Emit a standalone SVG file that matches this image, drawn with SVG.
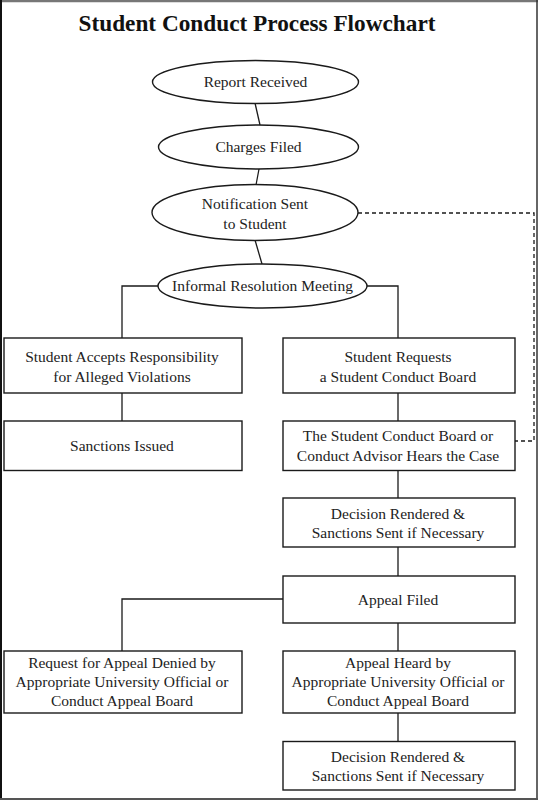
<svg xmlns="http://www.w3.org/2000/svg" width="538" height="800" viewBox="0 0 538 800">
<style>
.n{fill:#fff;stroke:#1a1a1a;stroke-width:1.4}
.t{font-size:15.5px;fill:#222;text-anchor:middle}
.c{fill:none;stroke:#1a1a1a;stroke-width:1.3}
.d{fill:none;stroke:#1a1a1a;stroke-width:1.3;stroke-dasharray:4,3}
</style>
<rect x="0" y="0" width="538" height="800" fill="#fff"/>
<g id="frame">
<line x1="0" y1="1" x2="538" y2="1" stroke="#777" stroke-width="2.5"/>
<line x1="1" y1="0" x2="1" y2="800" stroke="#111" stroke-width="2"/>
<line x1="537" y1="0" x2="537" y2="800" stroke="#333" stroke-width="1.5"/>
<line x1="0" y1="799" x2="538" y2="799" stroke="#555" stroke-width="2"/>
</g>
<text id="title" x="257" y="31" font-family="Liberation Serif,serif" font-weight="bold" font-size="23" text-anchor="middle" fill="#111" textLength="357" lengthAdjust="spacingAndGlyphs">Student Conduct Process Flowchart</text>
<g id="connectors">
<line class="c" x1="255" y1="103" x2="260" y2="125"/>
<line class="c" x1="259" y1="169" x2="256" y2="185"/>
<line class="c" x1="255" y1="240" x2="262" y2="264"/>
<polyline class="c" points="158,286 122,286 122,338"/>
<polyline class="c" points="367,286 398,286 398,338"/>
<line class="c" x1="122" y1="393" x2="122" y2="421"/>
<line class="c" x1="398" y1="393" x2="398" y2="421"/>
<line class="c" x1="398" y1="470" x2="398" y2="498"/>
<line class="c" x1="398" y1="547" x2="398" y2="576"/>
<polyline class="c" points="283,599 122,599 122,651"/>
<line class="c" x1="398" y1="623" x2="398" y2="651"/>
<line class="c" x1="398" y1="713" x2="398" y2="741"/>
<polyline class="d" points="358,213 534,213 534,441 515,441"/>
</g>
<g font-family="Liberation Serif,serif">
<g id="report"><ellipse class="n" cx="255.5" cy="82" rx="103" ry="21.5"/><text class="t" x="255.5" y="87">Report Received</text></g>
<g id="charges"><ellipse class="n" cx="258.5" cy="147" rx="100" ry="22"/><text class="t" x="258.5" y="152">Charges Filed</text></g>
<g id="notification"><ellipse class="n" cx="255" cy="212.5" rx="103" ry="28"/><text class="t" x="255" y="209">Notification Sent</text><text class="t" x="255" y="229">to Student</text></g>
<g id="informal"><ellipse class="n" cx="262.5" cy="286" rx="104.5" ry="22"/><text class="t" x="262.5" y="291">Informal Resolution Meeting</text></g>
<g id="accepts"><rect class="n" x="4" y="338" width="238" height="55"/><text class="t" x="122" y="362">Student Accepts Responsibility</text><text class="t" x="122" y="382">for Alleged Violations</text></g>
<g id="requests"><rect class="n" x="283" y="338" width="232" height="55"/><text class="t" x="398" y="362">Student Requests</text><text class="t" x="398" y="382">a Student Conduct Board</text></g>
<g id="sanctions"><rect class="n" x="4" y="421" width="238" height="49.5"/><text class="t" x="122" y="451">Sanctions Issued</text></g>
<g id="hears"><rect class="n" x="283" y="421" width="232" height="49.5"/><text class="t" x="398" y="441">The Student Conduct Board or</text><text class="t" x="398" y="461">Conduct Advisor Hears the Case</text></g>
<g id="decision1"><rect class="n" x="283" y="498" width="232" height="49"/><text class="t" x="398" y="519">Decision Rendered &amp;</text><text class="t" x="398" y="538">Sanctions Sent if Necessary</text></g>
<g id="appeal"><rect class="n" x="283" y="576" width="232" height="47"/><text class="t" x="398" y="605">Appeal Filed</text></g>
<g id="denied"><rect class="n" x="4" y="651" width="238" height="62"/><text class="t" x="122" y="668">Request for Appeal Denied by</text><text class="t" x="122" y="687">Appropriate University Official or</text><text class="t" x="122" y="706">Conduct Appeal Board</text></g>
<g id="heard"><rect class="n" x="283" y="651" width="232" height="62"/><text class="t" x="398" y="668">Appeal Heard by</text><text class="t" x="398" y="687">Appropriate University Official or</text><text class="t" x="398" y="706">Conduct Appeal Board</text></g>
<g id="decision2"><rect class="n" x="283" y="741.5" width="232" height="48.5"/><text class="t" x="398" y="762">Decision Rendered &amp;</text><text class="t" x="398" y="781">Sanctions Sent if Necessary</text></g>
</g>
</svg>
